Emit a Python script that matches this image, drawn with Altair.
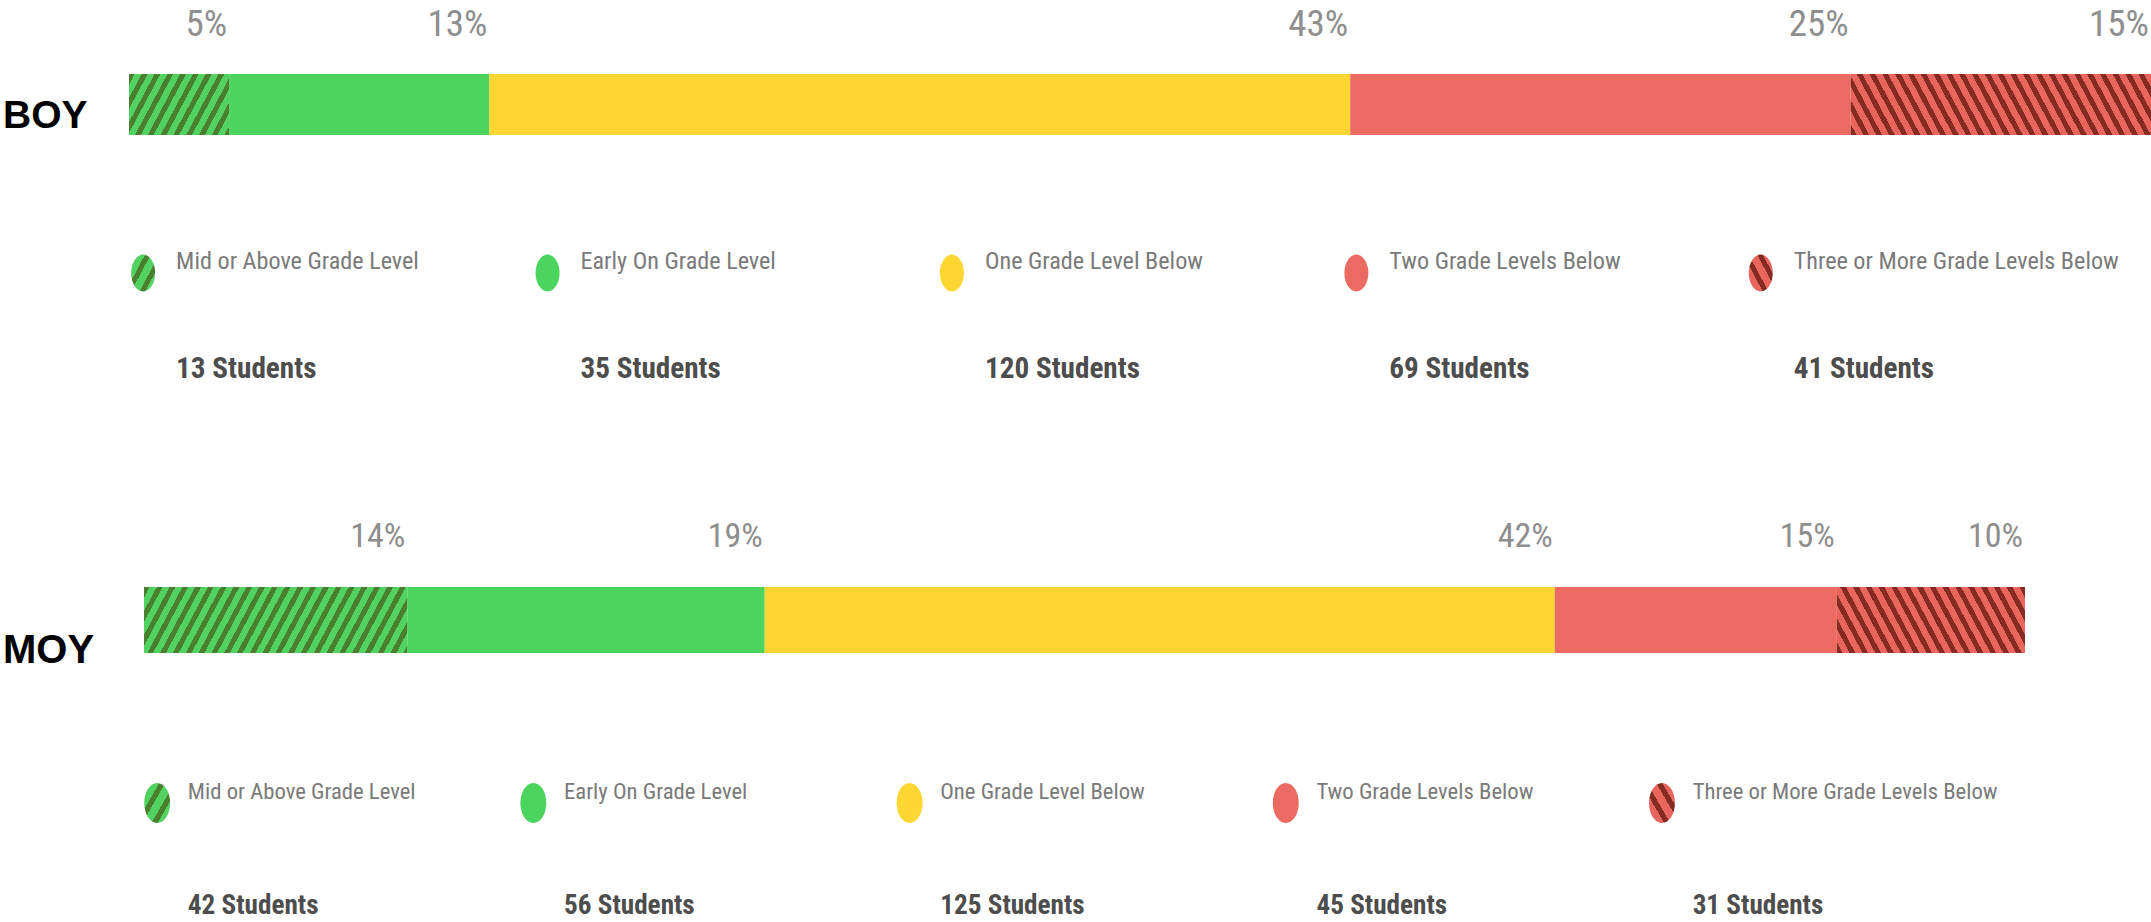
import math
import altair as alt
import pandas as pd

# ---------------- data ----------------
periods = ["BOY", "MOY"]
levels = [
    "Mid or Above Grade Level",
    "Early On Grade Level",
    "One Grade Level Below",
    "Two Grade Levels Below",
    "Three or More Grade Levels Below",
]
boy_pct = [5, 13, 43, 25, 15]
moy_pct = [14, 19, 42, 15, 10]
boy_students = [13, 35, 120, 69, 41]
moy_students = [42, 56, 125, 45, 31]

# ---------------- styles ----------------
NARROW = "Liberation Sans Narrow, Roboto Condensed, DejaVu Sans Condensed, sans-serif"
HEAVY = "Liberation Sans, Arial, sans-serif"

solid_levels = levels[1:4]
solid_colors = ["#4cd55e", "#fdd632", "#eb6b63"]
hatch_style = {
    levels[0]: ("#52d260", "#4a7f2f", "fwd"),
    levels[4]: ("#e8665e", "#862b22", "back"),
}

SYM_W, SYM_H = 24.0, 37.0
r = SYM_W / SYM_H
ELLIPSE = f"M {-r:.3f} 0 A {r:.3f} 1 0 1 0 {r:.3f} 0 A {r:.3f} 1 0 1 0 {-r:.3f} 0 Z"


def hatch(w, h, light, dark, direction, period=12.8, theta=62.0, dark_frac=0.45):
    th = math.radians(theta)
    s, c = math.sin(th), math.cos(th)
    D = s * w + c * h
    k = D / (s * s * w * w + c * c * h * h)
    pp = period * s / D
    stops = []
    o = 0.0
    while o < 1.0:
        o1 = min(o + dark_frac * pp, 1.0)
        o2 = min(o + pp, 1.0)
        stops += [
            {"offset": round(o, 5), "color": dark},
            {"offset": round(o1, 5), "color": dark},
            {"offset": round(o1, 5), "color": light},
            {"offset": round(o2, 5), "color": light},
        ]
        o += pp
    if direction == "fwd":
        x1, y1, x2, y2 = 0, 0, k * s * w, k * c * h
    else:
        x1, y1, x2, y2 = 0, 1, k * s * w, 1 - k * c * h
    return {"gradient": "linear", "x1": x1, "y1": y1, "x2": x2, "y2": y2, "stops": stops}


def panel(period, pct, students, xr, bar_y, pct_base, label_base, leg_base, leg_cy,
          cnt_base, sym_h, fs_pct, fs_leg, fs_cnt, fs_lab):
    total = sum(pct)
    df = pd.DataFrame({"level": levels, "pct": pct, "students": students,
                       "slot": list(range(len(levels)))})
    cum = df["pct"].cumsum()
    df["start"] = (cum - df["pct"]) / total
    df["end"] = cum / total
    df["period"] = period

    xs = alt.Scale(domain=[0, 1], range=list(xr))
    base = alt.Chart(df)
    layers = []

    # solid segments
    layers.append(
        base.transform_filter(alt.FieldOneOfPredicate(field="level", oneOf=solid_levels))
        .mark_rect()
        .encode(
            x=alt.X("start:Q", scale=xs, axis=None),
            x2="end:Q",
            y=alt.value(bar_y[0]),
            y2=alt.value(bar_y[1]),
            color=alt.Color("level:N", scale=alt.Scale(domain=solid_levels, range=solid_colors), legend=None),
        )
    )
    # hatched segments
    for lvl, (light, dark, direc) in hatch_style.items():
        row = df[df["level"] == lvl].iloc[0]
        w = (row["end"] - row["start"]) * (xr[1] - xr[0])
        h = bar_y[1] - bar_y[0]
        layers.append(
            base.transform_filter(alt.datum.level == lvl)
            .mark_rect(fill=hatch(w, h, light, dark, direc))
            .encode(
                x=alt.X("start:Q", scale=xs, axis=None),
                x2="end:Q",
                y=alt.value(bar_y[0]),
                y2=alt.value(bar_y[1]),
            )
        )
    # percent labels
    layers.append(
        base.transform_calculate(lab="datum.pct + '%'")
        .mark_text(align="right", baseline="alphabetic", font=NARROW, fontSize=fs_pct,
                   color="#8e8e8e", dx=-2)
        .encode(x=alt.X("end:Q", scale=xs, axis=None), y=alt.value(pct_base), text="lab:N")
    )
    # period label
    layers.append(
        base.transform_filter(alt.datum.slot == 0)
        .mark_text(align="left", baseline="alphabetic", font=HEAVY, fontWeight="bold",
                   fontSize=fs_lab, color="#000000")
        .encode(x=alt.value(3), y=alt.value(label_base), text="period:N")
    )
    # legend symbols (solid)
    layers.append(
        base.transform_filter(alt.FieldOneOfPredicate(field="level", oneOf=solid_levels))
        .transform_calculate(cx="datum.slot * 0.2 + 0.007")
        .mark_point(shape=ELLIPSE, size=sym_h * sym_h, filled=True, opacity=1, strokeWidth=0)
        .encode(
            x=alt.X("cx:Q", scale=xs, axis=None),
            y=alt.value(leg_cy),
            color=alt.Color("level:N", scale=alt.Scale(domain=solid_levels, range=solid_colors), legend=None),
        )
    )
    # legend symbols (hatched)
    for lvl, (light, dark, direc) in hatch_style.items():
        layers.append(
            base.transform_filter(alt.datum.level == lvl)
            .transform_calculate(cx="datum.slot * 0.2 + 0.007")
            .mark_point(shape=ELLIPSE, size=sym_h * sym_h, filled=True, opacity=1, strokeWidth=0,
                        fill=hatch(SYM_W, sym_h, light, dark, direc, period=14.0, dark_frac=0.4))
            .encode(x=alt.X("cx:Q", scale=xs, axis=None), y=alt.value(leg_cy))
        )
    # legend labels
    layers.append(
        base.transform_calculate(tx="datum.slot * 0.2 + 0.0233")
        .mark_text(align="left", baseline="alphabetic", font=NARROW, fontSize=fs_leg, color="#7a7a7a")
        .encode(x=alt.X("tx:Q", scale=xs, axis=None), y=alt.value(leg_base), text="level:N")
    )
    # student counts
    layers.append(
        base.transform_calculate(tx="datum.slot * 0.2 + 0.0233", cnt="datum.students + ' Students'")
        .mark_text(align="left", baseline="alphabetic", font=NARROW, fontWeight="bold",
                   fontSize=fs_cnt, color="#4d4d4d")
        .encode(x=alt.X("tx:Q", scale=xs, axis=None), y=alt.value(cnt_base), text="cnt:N")
    )
    return alt.layer(*layers)


boy = panel(periods[0], boy_pct, boy_students, (129, 2151), (74, 135), 36, 128, 269, 273, 378,
            37.0, 37, 24.2, 29.2, 39)
moy = panel(periods[1], moy_pct, moy_students, (144, 2025), (587, 653), 547, 663, 799, 803, 914,
            40.0, 34, 22.7, 27.2, 40)

chart = (
    alt.layer(boy, moy)
    .resolve_scale(x="independent")
    .properties(width=2151, height=922, padding=0, autosize=alt.AutoSizeParams(type="none"))
    .configure_view(stroke="transparent")
)

chart.save("out.html", embed_options={"renderer": "svg", "actions": False})
